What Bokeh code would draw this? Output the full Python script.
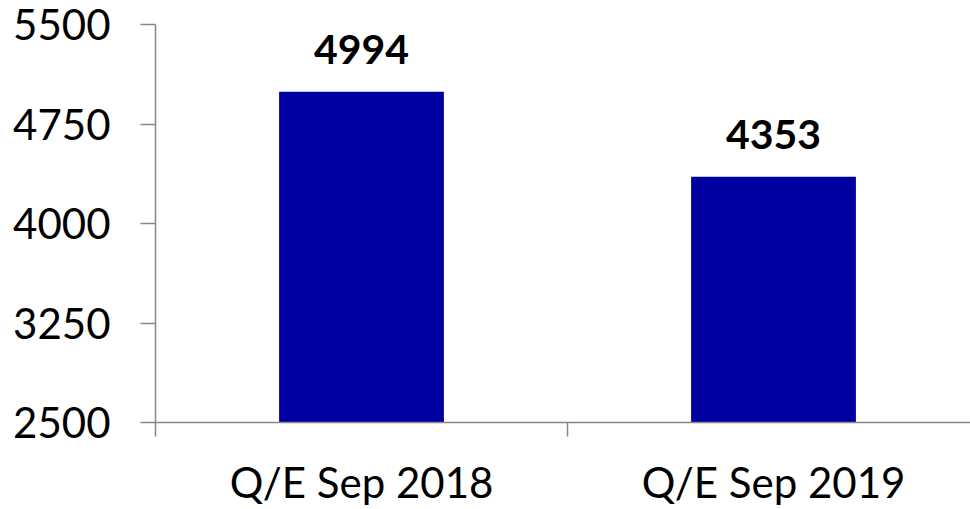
from bokeh.plotting import figure
from bokeh.models import Range1d, LinearAxis, FixedTicker, ColumnDataSource
from bokeh.core.properties import value
from bokeh.embed import file_html
from bokeh.resources import INLINE

categories = ["Q/E Sep 2018", "Q/E Sep 2019"]
values = [4994, 4353]
y_ticks = [2500, 3250, 4000, 4750, 5500]

xpos = [i + 0.5 for i in range(len(categories))]
boundaries = list(range(len(categories) + 1))
src = ColumnDataSource(dict(x=xpos, top=values, label=[str(v) for v in values]))

FONT = "Lato"
AXIS_COLOR = "#878787"

p = figure(width=970, height=509, output_backend="svg", toolbar_location=None,
           x_range=Range1d(0, 815 / 412), y_range=Range1d(2500, 5500),
           x_axis_location=None, y_axis_location=None,
           min_border_left=155, min_border_right=0, min_border_top=24, min_border_bottom=87)
p.outline_line_color = None
p.grid.visible = False
p.background_fill_color = "white"
p.border_fill_color = "white"

p.vbar(x="x", top="top", bottom=2500, width=0.4, source=src,
       fill_color="#0000A0", line_color=None)
p.text(x="x", y="top", text="label", source=src, text_align="center",
       text_baseline="alphabetic", y_offset=-42, text_font=value(FONT),
       text_font_style="bold", text_font_size="41px", text_color="black")

# y axis
yax = LinearAxis(ticker=FixedTicker(ticks=y_ticks))
yax.axis_line_color = AXIS_COLOR
yax.axis_line_width = 1.5
yax.major_tick_line_color = AXIS_COLOR
yax.major_tick_line_width = 1.5
yax.major_tick_out = 15
yax.major_tick_in = 0
yax.minor_tick_line_color = None
yax.major_label_standoff = 30
yax.major_label_text_font = FONT
yax.major_label_text_font_size = "42px"
yax.major_label_text_color = "black"
p.add_layout(yax, "left")

# x axis: labels at category centres, tick marks at category boundaries
xax = LinearAxis(ticker=FixedTicker(ticks=xpos, minor_ticks=boundaries))
xax.major_label_overrides = {x: c for x, c in zip(xpos, categories)}
xax.axis_line_color = AXIS_COLOR
xax.axis_line_width = 1.5
xax.major_tick_line_color = None
xax.major_tick_out = 0
xax.major_tick_in = 0
xax.minor_tick_line_color = AXIS_COLOR
xax.minor_tick_line_width = 1.5
xax.minor_tick_out = 14
xax.minor_tick_in = 0
xax.major_label_standoff = 20
xax.major_label_text_font = FONT
xax.major_label_text_font_size = "42px"
xax.major_label_text_color = "black"
p.add_layout(xax, "below")

open("out.html", "w").write(file_html(p, INLINE))
